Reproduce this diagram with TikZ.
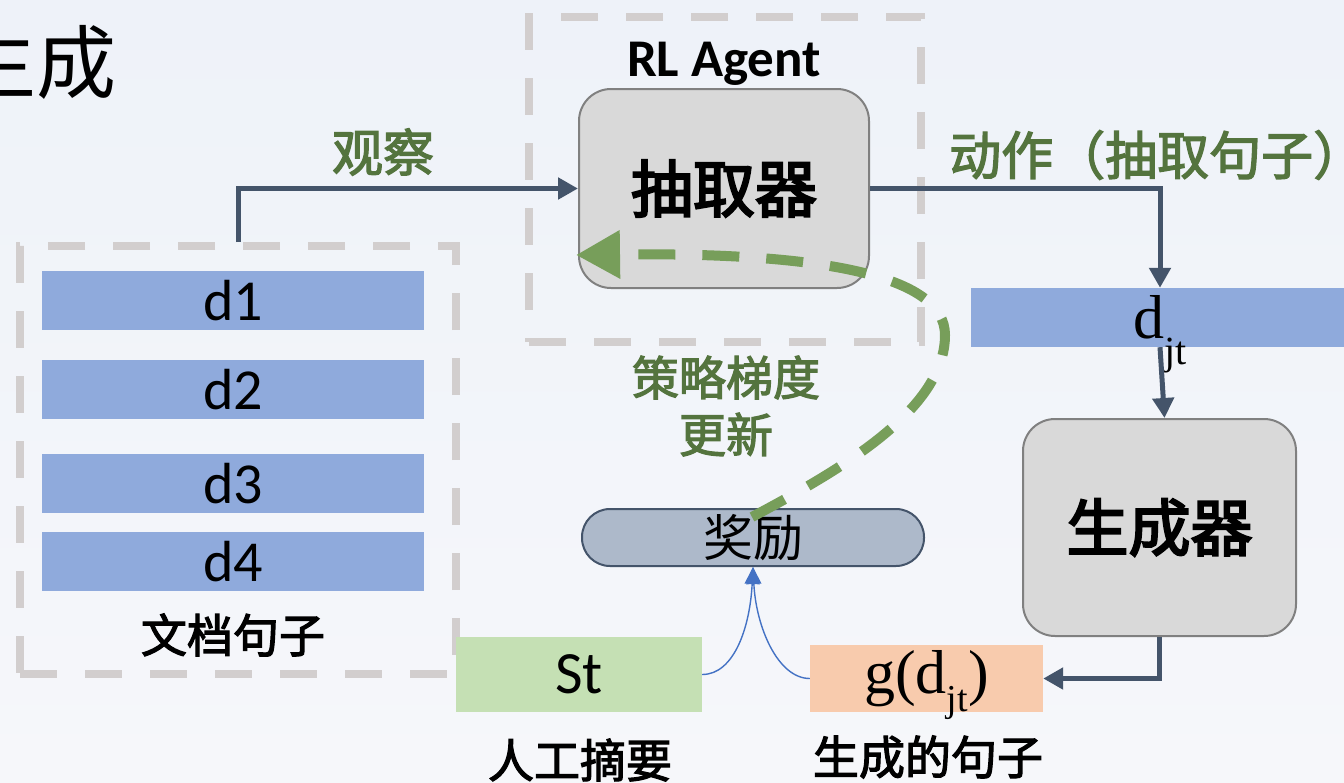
\documentclass[tikz,border=0pt]{standalone}
\usepackage{fontspec}
\setmainfont{Carlito}
\newfontfamily\cjk{Noto Sans CJK SC}
\newfontfamily\cjkm{Noto Sans CJK SC}[FakeBold=2.5]
\newfontfamily\cjkb{Noto Sans CJK SC}[FakeBold=3.5]
\newfontfamily\tnr{Liberation Serif}
\usetikzlibrary{arrows.meta,calc}

\definecolor{bgtop}{RGB}{238,242,249}
\definecolor{bgbot}{RGB}{246,247,250}
\definecolor{barblue}{RGB}{143,170,220}
\definecolor{boxgray}{RGB}{217,217,217}
\definecolor{boxedge}{RGB}{128,128,128}
\definecolor{dashgray}{RGB}{210,206,206}
\definecolor{slate}{RGB}{68,84,106}
\definecolor{labgreen}{RGB}{84,116,62}
\definecolor{fbgreen}{RGB}{119,158,90}
\definecolor{rewardfill}{RGB}{173,185,202}
\definecolor{stgreen}{RGB}{197,224,180}
\definecolor{gpeach}{RGB}{248,203,173}
\definecolor{linkblue}{RGB}{68,114,196}

\newcommand\fsz[1]{\fontsize{#1}{1.2\dimexpr #1\relax}\selectfont}

\tikzset{
  bar/.style={fill=barblue, inner sep=0, minimum width=382pt, minimum height=59pt,
    font=\fsz{58pt}},
  dashbox/.style={draw=dashgray, line width=8pt, dash pattern=on 37pt off 28pt,
    inner sep=0},
  module/.style={fill=boxgray, draw=boxedge, line width=2pt, rounded corners=32pt,
    inner sep=0, font=\cjkb\fsz{62pt}},
  flow/.style={draw=slate, line width=5pt,
    -{Triangle[length=20pt,width=21pt]}},
  link/.style={draw=linkblue, line width=1.4pt,
    -{Triangle[length=17pt,width=15pt]}},
  feedback/.style={draw=fbgreen, line width=10pt, dash pattern=on 37pt off 27pt,
    -{Triangle[length=44pt,width=46pt]}},
  glabel/.style={text=labgreen, font=\cjkm\fsz{47pt}, inner sep=0},
  clabel/.style={text=black, font=\cjkm\fsz{46pt}, inner sep=0},
}

\begin{document}
\begin{tikzpicture}[x=1pt, y=1pt]
  \useasboundingbox (0,0) rectangle (1344,-782);
  \fill[top color=bgtop, bottom color=bgbot] (0,0) rectangle (1344,-782);

  % heading fragment
  \node[anchor=east, inner sep=0, font=\cjk\fsz{80pt}] (head) at (117,-62) {生成};

  % document sentences
  \node[dashbox, minimum width=436pt, minimum height=428pt] (docbox) at (238,-460) {};
  \node[bar] (d1) at (233,-300.5) {d1};
  \node[bar] (d2) at (233,-389.5) {d2};
  \node[bar] (d3) at (233,-483.5) {d3};
  \node[bar] (d4) at (233,-561.5) {d4};
  \node[clabel] (doclab) at (233,-635) {文档句子};

  % RL agent
  \node[dashbox, minimum width=392pt, minimum height=325pt] (rlbox) at (725,-179.5) {};
  \node[inner sep=0, font=\bfseries\fsz{53pt}] (rllab) at (724,-64) {RL Agent};
  \node[module, minimum width=290pt, minimum height=199pt] (ext) at (724,-188.5) {抽取器};

  % selected sentence and generator
  \node[fill=barblue, inner sep=0, minimum width=378pt, minimum height=59pt,
        font=\tnr\fsz{62pt}] (djt) at (1160,-317.5)
        {\raisebox{-8pt}{d\smash{\raisebox{-0.42em}{\fsz{40pt}jt}}}};
  \node[module, minimum width=273pt, minimum height=217pt] (gen) at (1159.5,-527.5) {生成器};

  % reward inputs
  \node[fill=stgreen, inner sep=0, minimum width=246pt, minimum height=75pt,
        font=\fsz{60pt}] (st) at (579,-674.5) {St};
  \node[fill=gpeach, inner sep=0, minimum width=233pt, minimum height=67pt,
        font=\tnr\fsz{62pt}] (gd) at (926.5,-678.5)
        {g(d\smash{\raisebox{-0.3em}{\fsz{38pt}jt}})};
  \node[clabel] (stlab) at (580,-760) {人工摘要};
  \node[clabel] (gdlab) at (928,-757) {生成的句子};

  % reward
  \node[fill=rewardfill, draw=slate, line width=2pt, rounded corners=28pt,
        minimum width=342pt, minimum height=57pt, inner sep=0,
        font=\cjk\fsz{50pt}] (reward) at (753,-537.5) {奖励};

  % labels
  \node[glabel, font=\cjkm\fsz{51pt}] (obs) at (383,-152) {观察};
  \node[glabel, font=\cjkm\fsz{52pt}, anchor=west] (act) at (949,-155) {动作（抽取句子）};
  \node[glabel, align=center, font=\cjkm\fontsize{47pt}{57pt}\selectfont] (pg)
        at (726,-406) {策略梯度\\更新};

  % main flow
  \draw[flow] (docbox.north) |- (ext.west);
  \draw[flow] (ext.east) -| (djt.north);
  \draw[flow] (djt.south) -- ($(gen.north)+(5,0)$);
  \draw[flow] (gen.south) |- (gd.east);

  % reward computation
  \draw[link] (st.east) .. controls +(32,0) and +(-3,-60) .. (reward.south);
  \draw[link] (gd.west) .. controls +(-32,0) and +(3,-60) .. (reward.south);

  % policy gradient feedback
  \coordinate (fbS) at (752,-517);
  \coordinate (fbE) at ($(ext.west)+(-2,-66.5)$);
  \draw[feedback] (fbS) .. controls (840,-470) and (945,-410) .. (945,-335)
                  .. controls (945,-275) and (820,-252) .. (fbE);
\end{tikzpicture}
\end{document}
